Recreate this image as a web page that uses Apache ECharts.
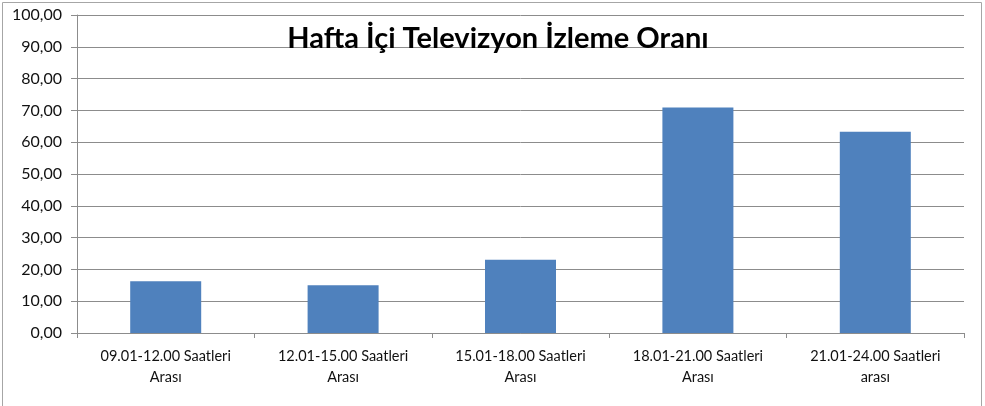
<!DOCTYPE html>
<html>
<head>
<meta charset="utf-8">
<script src="https://cdn.jsdelivr.net/npm/echarts@6/dist/echarts.min.js"></script>
<style>
  html, body { margin: 0; padding: 0; background: #fff; }
  #chart { width: 985px; height: 406px; }
</style>
</head>
<body>
<div id="chart"></div>
<script>
// veriler
var categories = [
    '09.01-12.00 Saatleri\nArası',
    '12.01-15.00 Saatleri\nArası',
    '15.01-18.00 Saatleri\nArası',
    '18.01-21.00 Saatleri\nArası',
    '21.01-24.00 Saatleri\narası'
];
var values = [16.3, 15.0, 23.0, 70.9, 63.3];

function drawChart(){
    var chart = echarts.init(document.getElementById('chart'));

    var option = {
        animation: false,
        textStyle: { fontFamily: 'Lato' },
        title: {
            text: 'Hafta İçi Televizyon İzleme Oranı',
            left: 493,
            textAlign: 'center',
            top: 19,
            textStyle: {
                fontFamily: 'Lato',
                fontWeight: 'bold',
                fontSize: 29,
                color: '#000'
            }
        },
        graphic: [{
            type: 'rect',
            shape: { x: 2.5, y: 2.5, width: 979, height: 410 },
            style: { fill: 'none', stroke: '#a6a6a6', lineWidth: 1 },
            z: -1
        }],
        grid: {
            left: 77,
            right: 21,
            top: 15,
            bottom: 73
        },
        xAxis: {
            type: 'category',
            data: categories,
            axisLine: { lineStyle: { color: '#8c8c8c' } },
            axisTick: { show: true, length: 5, lineStyle: { color: '#8c8c8c' } },
            axisLabel: {
                interval: 0,
                color: '#111',
                fontSize: 14.5,
                lineHeight: 21,
                margin: 13
            }
        },
        yAxis: {
            type: 'value',
            min: 0,
            max: 100,
            interval: 10,
            axisLine: { show: true, lineStyle: { color: '#8c8c8c' } },
            axisTick: { show: true, length: 6, lineStyle: { color: '#8c8c8c' } },
            splitLine: { lineStyle: { color: '#8c8c8c' } },
            axisLabel: {
                color: '#111',
                fontSize: 16,
                margin: 15,
                formatter: function (v) { return v.toFixed(2).replace('.', ','); }
            }
        },
        series: [{
            type: 'bar',
            data: values,
            barWidth: 71,
            itemStyle: { color: '#4f81bd' }
        }]
    };

    chart.setOption(option);
}

drawChart();
</script>
</body>
</html>
